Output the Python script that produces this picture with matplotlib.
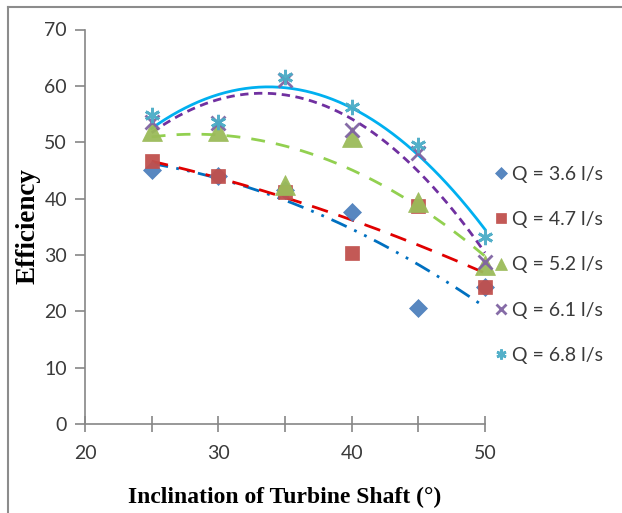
import numpy as np
import matplotlib
matplotlib.use("Agg")
import matplotlib.pyplot as plt
from matplotlib.ticker import MultipleLocator

angle = [25, 30, 35, 40, 45, 50]

eff_q36 = [45.1, 44.0, 41.5, 37.7, 20.5, 24.3]
eff_q47 = [46.7, 44.0, 41.2, 30.4, 38.6, 24.3]
eff_q52 = [52.0, 52.0, 42.4, 51.0, 39.4, 28.2]
eff_q61 = [53.6, 53.4, 61.0, 52.2, 48.0, 28.8]
eff_q68 = [54.8, 53.6, 61.5, 56.3, 49.5, 33.2]

labels = ["Q = 3.6 l/s", "Q = 4.7 l/s", "Q = 5.2 l/s", "Q = 6.1 l/s", "Q = 6.8 l/s"]

# marker, marker colour, trendline colour, trendline style, marker size
series = [
    (eff_q36, "D", "#4F81BD", "#0070C0", (0, (6, 3, 1, 3, 1, 3)), 9.5),
    (eff_q47, "s", "#C0504D", "#E00000", (0, (6, 4)), 10.5),
    (eff_q52, "^", "#9BBB59", "#92D050", (0, (5, 4)), 14),
    (eff_q61, "x", "#8064A2", "#7030A0", (0, (3, 2)), 10),
    (eff_q68, (6, 2, 0), "#4BACC6", "#00B0F0", "-", 11),
]

SANS = ["Lato", "DejaVu Sans"]
grey = "#868686"

fig = plt.figure(figsize=(6.22, 5.13), dpi=100)
ax = fig.add_axes([85 / 622, 1 - 424 / 513, 400 / 622, (424 - 29.5) / 513])

# Excel-style 2nd order polynomial trendlines
xs = np.linspace(min(angle), max(angle), 200)
for vals, mk, mc, lc, ls, ms in series:
    coef = np.polyfit(angle, vals, 2)
    ax.plot(xs, np.polyval(coef, xs), color=lc, lw=2, linestyle=ls, zorder=3, clip_on=False)

handles = []
for (vals, mk, mc, lc, ls, ms), lab in zip(series, labels):
    line_marker = mk == "x" or not isinstance(mk, str)
    h, = ax.plot(angle, vals, linestyle="none", marker=mk, ms=ms, color=mc, mec=mc,
                 mew=2 if line_marker else 0.5, zorder=4, clip_on=False, label=lab, alpha=0.95)
    handles.append(h)

ax.set_xlim(20, 50)
ax.set_ylim(0, 70)
ax.xaxis.set_major_locator(MultipleLocator(10))
ax.xaxis.set_minor_locator(MultipleLocator(5))
ax.yaxis.set_major_locator(MultipleLocator(10))

for side in ("top", "right"):
    ax.spines[side].set_visible(False)
for side in ("left", "bottom"):
    ax.spines[side].set_color(grey)
    ax.spines[side].set_linewidth(1.2)

ax.tick_params(axis="x", which="both", direction="inout", length=12, color=grey, width=1.2,
               labelsize=14, labelcolor="#3a3a3a", pad=9)
ax.tick_params(axis="y", direction="out", length=7, color=grey, width=1.2,
               labelsize=14, labelcolor="#3a3a3a", pad=6)
for t in ax.get_xticklabels() + ax.get_yticklabels():
    t.set_family(SANS)

fig.text(28 / 622, 1 - 226 / 513, "Efficiency", rotation=90, ha="center", va="center",
         family="Liberation Serif", weight="bold", fontsize=19.5)
fig.text(285 / 622, 1 - 497 / 513, "Inclination of Turbine Shaft (°)", ha="center", va="center",
         family="Liberation Serif", weight="bold", fontsize=17)

leg = fig.legend(handles=handles, loc="upper left", bbox_to_anchor=(495 / 622, 1 - 166 / 513),
                 frameon=False, handlelength=0.6, handletextpad=0.3, labelspacing=1.45,
                 markerscale=0.65, prop={"family": SANS, "size": 14}, borderaxespad=0,
                 borderpad=0)
for t in leg.get_texts():
    t.set_color("#3a3a3a")

# grey chart-area frame (only top and left edges fall inside the image)
fig.add_artist(plt.Line2D([8 / 622, 8 / 622], [0, 1 - 6.5 / 513], color="#8c8c8c", lw=1.5))
fig.add_artist(plt.Line2D([8 / 622, 1], [1 - 6.5 / 513, 1 - 6.5 / 513], color="#8c8c8c", lw=1.5))

fig.savefig("out.png", dpi=100)
